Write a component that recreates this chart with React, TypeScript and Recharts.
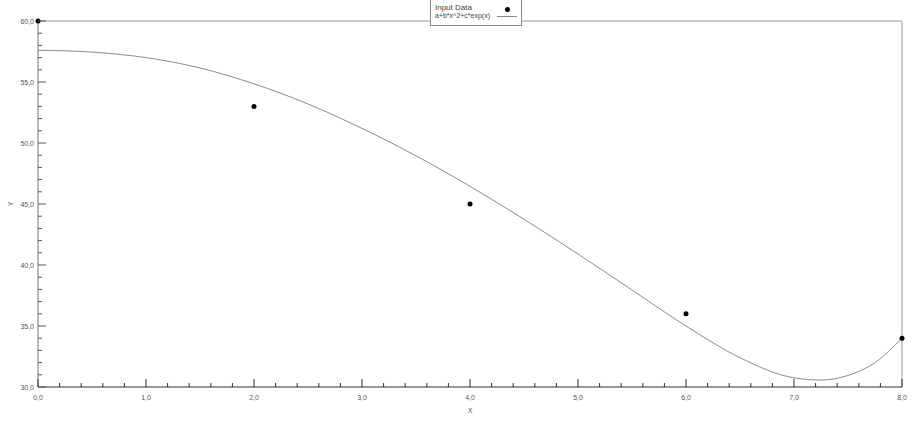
import {
  ComposedChart,
  Line,
  Scatter,
  XAxis,
  YAxis,
  ReferenceLine,
} from 'recharts';

// input data (black dots)
const pointX = [0, 2, 4, 6, 8];
const pointY = [60, 53, 45, 36, 34];

// fitted curve a+b*x^2+c*exp(x)
const fitX = [0, 0.5, 1, 1.5, 2, 2.5, 3, 3.5, 4, 4.5, 5, 5.5, 6, 6.5, 7, 7.25, 7.5, 7.75, 8];
const fitY = [57.6, 57.45, 57.0, 56.15, 54.85, 53.2, 51.2, 48.95, 46.45, 43.75, 40.9, 37.95, 35.0, 32.4, 30.75, 30.57, 30.95, 32.0, 34.0];

// axis ticks: majors get labels, the rest are minor marks
const xMajor = [0, 1, 2, 3, 4, 5, 6, 7, 8];
const yMajor = [30, 35, 40, 45, 50, 55, 60];
const xTicks = Array.from({ length: 41 }, (_, i) => Math.round(i * 2) / 10);
const yTicks = Array.from({ length: 31 }, (_, i) => 30 + i);

const points = pointX.map((x, i) => ({ x, y: pointY[i] }));
const fit = fitX.map((x, i) => ({ x, fit: fitY[i] }));

const FONT = '"Liberation Sans", Arial, sans-serif';
const fmt = (v: number) => v.toFixed(1).replace('.', ',');

const isMajor = (v: number, majors: number[]) => majors.some((m) => Math.abs(m - v) < 1e-6);

const XTick = ({ x, y, payload }: any) => {
  const major = isMajor(payload.value, xMajor);
  return (
    <g>
      <line x1={x} x2={x} y1={y} y2={y - (major ? 8 : 4)} stroke="#333" strokeWidth={1} />
      {major && (
        <text x={x} y={y + 13} textAnchor="middle" fontSize={7} fontFamily={FONT} fill="#555">
          {fmt(payload.value)}
        </text>
      )}
    </g>
  );
};

const YTick = ({ x, y, payload }: any) => {
  const major = isMajor(payload.value, yMajor);
  return (
    <g>
      <line x1={x} x2={x + (major ? 8 : 4)} y1={y} y2={y} stroke="#555" strokeWidth={1} />
      {major && (
        <text x={x - 4} y={y + 2.5} textAnchor="end" fontSize={7} fontFamily={FONT} fill="#555">
          {fmt(payload.value)}
        </text>
      )}
    </g>
  );
};

const Dot = ({ cx, cy }: any) => <circle cx={cx} cy={cy} r={2.5} fill="#000" />;

export default function App() {
  return (
    <div style={{ position: 'absolute', left: 0, top: 0, width: 921, height: 422, background: '#fff' }}>
      <ComposedChart
        width={921}
        height={422}
        margin={{ top: 21, right: 19, bottom: 0, left: 0 }}
      >
        <XAxis
          type="number"
          dataKey="x"
          domain={[0, 8]}
          ticks={xTicks}
          interval={0}
          tick={<XTick />}
          tickSize={0}
          tickMargin={0}
          tickLine={false}
          axisLine={{ stroke: '#333' }}
          height={35}
          label={{ value: 'X', position: 'insideBottom', offset: 9, fontSize: 7, fontFamily: FONT, fill: '#555' }}
        />
        <YAxis
          type="number"
          domain={[30, 60]}
          ticks={yTicks}
          interval={0}
          tick={<YTick />}
          tickSize={0}
          tickMargin={0}
          tickLine={false}
          axisLine={{ stroke: '#777' }}
          width={38}
          label={{ value: 'Y', angle: -90, position: 'insideLeft', offset: 11, fontSize: 7, fontFamily: FONT, fill: '#555', style: { textAnchor: 'middle' } }}
        />
        <ReferenceLine y={60} stroke="#999" />
        <ReferenceLine x={8} stroke="#999" />
        <Line
          data={fit}
          dataKey="fit"
          type="monotone"
          stroke="#8c8c8c"
          strokeWidth={1}
          dot={false}
          activeDot={false}
          isAnimationActive={false}
        />
        <Scatter data={points} dataKey="y" shape={<Dot />} isAnimationActive={false} />
      </ComposedChart>

      <div
        style={{
          position: 'absolute',
          left: 430,
          top: -1,
          width: 90,
          height: 25,
          border: '1px solid #888',
          background: '#fff',
          fontFamily: FONT,
          fontSize: 8,
          color: '#444',
        }}
      >
        <div style={{ position: 'absolute', left: 4, top: 4, lineHeight: '8px' }}>Input Data</div>
        <div style={{ position: 'absolute', left: 74, top: 7, width: 5, height: 5, borderRadius: 3, background: '#000' }} />
        <div style={{ position: 'absolute', left: 4, top: 12, lineHeight: '8px', fontSize: 7 }}>a+b*x^2+c*exp(x)</div>
        <div style={{ position: 'absolute', left: 66, top: 16, width: 20, height: 1, background: '#888' }} />
      </div>
    </div>
  );
}
